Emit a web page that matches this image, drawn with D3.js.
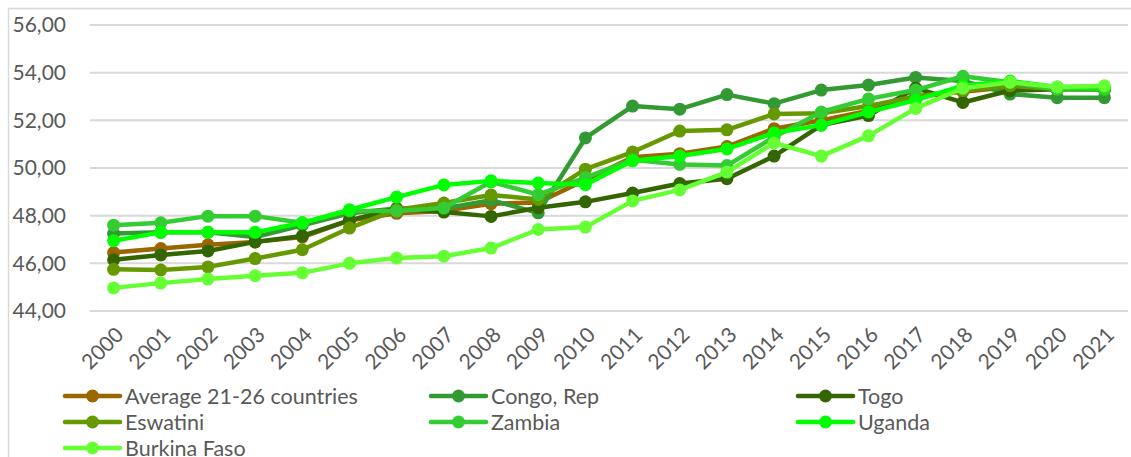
<!DOCTYPE html>
<html>
<head>
<meta charset="utf-8">
<script src="https://cdn.jsdelivr.net/npm/d3@7"></script>
<style>
  html, body { margin: 0; padding: 0; background: #fff; }
  svg { display: block; }
  text { font-family: Lato, "Open Sans", sans-serif; fill: #595959; }
</style>
</head>
<body>
<svg id="chart"></svg>
<script>
const years = d3.range(2000, 2022).map(String);
const yTicks = [44, 46, 48, 50, 52, 54, 56];

const seriesNames = ["Average 21-26 countries", "Congo, Rep", "Togo", "Eswatini", "Zambia", "Uganda", "Burkina Faso"];
const seriesColors = ["#996600", "#339933", "#336600", "#669900", "#33cc33", "#00ff00", "#66ff33"];

const average = [46.45, 46.62, 46.78, 46.9, 47.1, 47.8, 48.1, 48.2, 48.5, 48.55, 49.5, 50.45, 50.6, 50.9, 51.65, 52.0, 52.4, 53.0, 53.2, 53.4, 53.3, 53.3];
const congo = [47.25, 47.3, 47.3, 47.1, 47.6, 48.1, 48.3, 48.3, 48.65, 48.12, 51.26, 52.6, 52.47, 53.08, 52.7, 53.27, 53.48, 53.8, 53.65, 53.1, 52.95, 52.95];
const togo = [46.15, 46.35, 46.52, 46.9, 47.15, 47.8, 48.3, 48.15, 47.97, 48.33, 48.58, 48.95, 49.35, 49.55, 50.5, 51.8, 52.2, 53.35, 52.75, 53.25, 53.3, 53.3];
const eswatini = [45.75, 45.72, 45.85, 46.2, 46.57, 47.48, 48.25, 48.53, 48.87, 48.68, 49.95, 50.67, 51.55, 51.6, 52.27, 52.3, 52.6, 53.0, 53.25, 53.45, 53.3, 53.3];
const zambia = [47.6, 47.7, 47.98, 47.98, 47.7, 48.2, 48.2, 48.32, 49.42, 48.88, 49.6, 50.35, 50.15, 50.1, 51.3, 52.35, 52.9, 53.27, 53.85, 53.6, 53.3, 53.3];
const uganda = [46.95, 47.3, 47.3, 47.3, 47.7, 48.25, 48.78, 49.29, 49.46, 49.37, 49.3, 50.3, 50.5, 50.8, 51.47, 51.8, 52.35, 52.85, 53.45, 53.65, 53.4, 53.4];
const burkina = [44.97, 45.17, 45.34, 45.48, 45.6, 46.0, 46.22, 46.3, 46.64, 47.42, 47.52, 48.62, 49.08, 49.83, 51.05, 50.5, 51.35, 52.5, 53.35, 53.6, 53.4, 53.45];

const seriesValues = [average, congo, togo, eswatini, zambia, uganda, burkina];

const width = 1131, height = 457;
const svg = d3.select("#chart").attr("width", width).attr("height", height);

// outer chart frame (right/bottom fall off the picture)
svg.append("rect")
  .attr("x", 8.5).attr("y", 8.5)
  .attr("width", 1140).attr("height", 470)
  .attr("fill", "none")
  .attr("stroke", "#d9d9d9")
  .attr("stroke-width", 1.5);

const x = d3.scaleBand().domain(years).range([90, 1128]).padding(0);
const y = d3.scaleLinear().domain([44, 56]).range([311, 25]);
const xc = (d) => x(d) + x.bandwidth() / 2;

// gridlines
svg.append("g")
  .selectAll("line")
  .data(yTicks)
  .enter().append("line")
  .attr("x1", 90).attr("x2", 1128)
  .attr("y1", (d) => y(d)).attr("y2", (d) => y(d))
  .attr("stroke", "#d9d9d9")
  .attr("stroke-width", 2);

// y labels
svg.append("g")
  .selectAll("text")
  .data(yTicks)
  .enter().append("text")
  .attr("x", 66)
  .attr("y", (d) => y(d))
  .attr("dy", "0.35em")
  .attr("text-anchor", "end")
  .style("font-size", "21px")
  .text((d) => d.toFixed(2).replace(".", ","));

// x labels, rotated
svg.append("g")
  .selectAll("text")
  .data(years)
  .enter().append("text")
  .attr("transform", (d) => `translate(${xc(d) + 6}, 331) rotate(-45)`)
  .attr("dy", "0.35em")
  .attr("text-anchor", "end")
  .style("font-size", "21px")
  .text((d) => d);

// series
const line = d3.line()
  .x((d, i) => xc(years[i]))
  .y((d) => y(d));

seriesValues.forEach((vals, s) => {
  const g = svg.append("g");
  g.append("path")
    .attr("d", line(vals))
    .attr("fill", "none")
    .attr("stroke", seriesColors[s])
    .attr("stroke-width", 4.5)
    .attr("stroke-linejoin", "round");
  g.selectAll("circle")
    .data(vals)
    .enter().append("circle")
    .attr("cx", (d, i) => xc(years[i]))
    .attr("cy", (d) => y(d))
    .attr("r", 6.5)
    .attr("fill", seriesColors[s]);
});

// legend
const colX = [65, 431, 798];
const rowY = [396, 422, 448];
const legend = svg.append("g")
  .selectAll("g")
  .data(seriesNames)
  .enter().append("g")
  .attr("transform", (d, i) => `translate(${colX[i % 3]}, ${rowY[Math.floor(i / 3)]})`);

legend.append("line")
  .attr("x1", 0).attr("x2", 55)
  .attr("stroke", (d, i) => seriesColors[i])
  .attr("stroke-width", 4.5)
  .attr("stroke-linecap", "round");
legend.append("circle")
  .attr("cx", 27.5)
  .attr("r", 6.5)
  .attr("fill", (d, i) => seriesColors[i]);
legend.append("text")
  .attr("x", 60)
  .attr("dy", "0.35em")
  .style("font-size", "21.5px")
  .text((d) => d);
</script>
</body>
</html>
